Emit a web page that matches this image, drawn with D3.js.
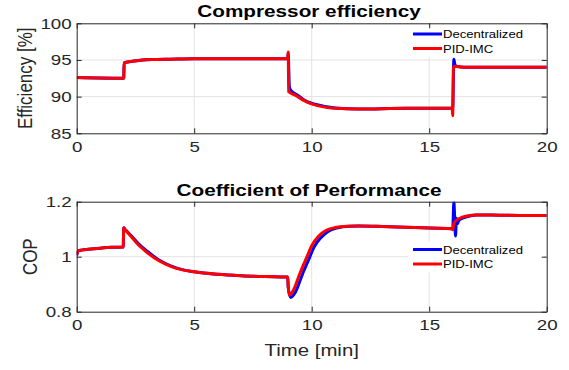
<!DOCTYPE html>
<html>
<head>
<meta charset="utf-8">
<script src="https://cdn.jsdelivr.net/npm/d3@7"></script>
<style>
  body { margin: 0; background: #fff; }
  text { font-family: "Liberation Sans", Arial, Helvetica, sans-serif; fill: #262626; }
</style>
</head>
<body>
<div id="chart"></div>
<script>
// donnees
var xTicks = [0, 5, 10, 15, 20];
var effTicks = [85, 90, 95, 100];
var copTicks = [0.8, 1, 1.2];
var seriesNames = ['Decentralized', 'PID-IMC'];

// rendement compresseur, Decentralized
var tEffDec = [0,1.98,2.0,2.02,2.3,2.7,3.2,4,5,6,7,8,8.98,9.0,9.05,9.1,9.4,9.7,10,10.5,11,12,13,14,15,15.98,16.0,16.05,16.1,16.2,16.5,17,18,19,20];
var effDec = [92.6,92.5,92.5,94.6,94.8,94.95,95.05,95.1,95.15,95.15,95.15,95.15,95.15,95.9,91.3,90.9,90.2,89.5,89.1,88.7,88.45,88.3,88.35,88.4,88.4,88.4,88.4,95.1,94.3,94.1,94.0,94.0,94.0,94.0,94.0];
// rendement compresseur, PID-IMC
var tEffPid = [0,1.98,2.0,2.02,2.3,2.7,3.2,4,5,6,7,8,8.98,9.0,9.02,9.05,9.3,9.6,10,10.5,11,12,13,14,15,15.98,16.0,16.03,16.06,16.2,16.5,17,18,19,20];
var effPid = [92.6,92.5,92.5,94.6,94.8,94.95,95.05,95.1,95.15,95.15,95.15,95.15,95.15,96.1,90.7,90.6,90.2,89.6,89.0,88.6,88.4,88.3,88.35,88.4,88.4,88.4,87.4,94.0,94.1,94.1,94.0,94.0,94.0,94.0,94.0];

// COP, Decentralized
var tCopDec = [0,0.05,0.2,0.5,1,1.5,1.98,2.0,2.05,2.3,2.6,3,3.5,4,4.5,5,6,7,8,8.98,9.0,9.1,9.3,9.6,9.9,10.1,10.4,10.7,11.1,11.6,12,13,14,15,15.98,16.0,16.05,16.08,16.12,16.16,16.2,16.25,16.3,16.6,17,18,19,20];
var copDec = [1.005,1.02,1.024,1.027,1.031,1.034,1.035,1.105,1.1,1.078,1.05,1.02,0.988,0.967,0.953,0.945,0.936,0.931,0.928,0.926,0.89,0.852,0.87,0.935,0.995,1.035,1.07,1.092,1.105,1.111,1.112,1.110,1.107,1.104,1.102,1.1,1.2,1.15,1.075,1.14,1.12,1.13,1.135,1.145,1.152,1.151,1.15,1.15];
// COP, PID-IMC
var tCopPid = [0,0.05,0.2,0.5,1,1.5,1.98,2.0,2.05,2.3,2.6,3,3.5,4,4.5,5,6,7,8,8.98,9.0,9.05,9.2,9.5,9.8,10,10.3,10.6,11,11.5,12,13,14,15,15.98,16.0,16.05,16.1,16.3,16.6,17,18,19,20];
var copPid = [1.005,1.02,1.024,1.027,1.031,1.034,1.035,1.105,1.1,1.075,1.045,1.015,0.985,0.965,0.952,0.945,0.936,0.931,0.928,0.926,0.89,0.86,0.875,0.94,1.0,1.04,1.075,1.095,1.106,1.111,1.112,1.110,1.107,1.104,1.102,1.098,1.12,1.128,1.14,1.148,1.152,1.151,1.15,1.15];

var W = 569, H = 370;
var colors = ['#0000ff', '#ff0000'];
var axisColor = '#262626';

var svg = d3.select('#chart').append('svg')
  .attr('width', W)
  .attr('height', H);

var x = d3.scaleLinear().domain([0, 20]).range([76.7, 546.7]);

function zip(t, v) { return t.map(function (d, i) { return [d, v[i]]; }); }

// texte etire horizontalement comme sur la figure
function stretched(sel, px, py, sx, extra) {
  return sel.attr('x', 0).attr('y', 0)
    .attr('transform', 'translate(' + px + ',' + py + ') scale(' + sx + ',1)' + (extra || ''));
}

function panel(cfg) {
  var y = d3.scaleLinear().domain(cfg.domain).range([cfg.bottom, cfg.top]);
  var g = svg.append('g');

  // grille
  g.selectAll('.gx').data(xTicks.slice(1, -1)).join('line')
    .attr('x1', d => x(d)).attr('x2', d => x(d))
    .attr('y1', cfg.top).attr('y2', cfg.bottom)
    .style('stroke', '#e3e3e3').style('stroke-width', 1);
  g.selectAll('.gy').data(cfg.ticks.slice(1, -1)).join('line')
    .attr('x1', x(0)).attr('x2', x(20))
    .attr('y1', d => y(d)).attr('y2', d => y(d))
    .style('stroke', '#e3e3e3').style('stroke-width', 1);

  // courbes
  svg.append('clipPath').attr('id', 'clip' + cfg.id)
    .append('rect').attr('x', x(0)).attr('y', cfg.top)
    .attr('width', x(20) - x(0)).attr('height', cfg.bottom - cfg.top);
  var line = d3.line().x(d => x(d[0])).y(d => y(d[1])).curve(d3.curveMonotoneX);
  g.append('g').attr('clip-path', 'url(#clip' + cfg.id + ')')
    .selectAll('path').data(cfg.series).join('path')
    .attr('d', d => line(d))
    .style('fill', 'none')
    .style('stroke', (d, i) => colors[i])
    .style('stroke-width', 3)
    .style('stroke-linejoin', 'round');

  // legende
  var lg = g.append('g');
  lg.append('rect').attr('x', 408).attr('y', cfg.legendY - 8)
    .attr('width', 136).attr('height', 31).style('fill', '#fff');
  seriesNames.forEach(function (name, i) {
    var ly = cfg.legendY + i * 14.5;
    lg.append('line').attr('x1', 413).attr('x2', 442).attr('y1', ly).attr('y2', ly)
      .style('stroke', colors[i]).style('stroke-width', 3);
    stretched(lg.append('text'), 443, ly + 4, 1.19)
      .style('font-size', '11px').style('fill', '#000').text(name);
  });

  // axes
  var ax = g.append('g').attr('transform', 'translate(0,' + cfg.bottom + ')')
    .call(d3.axisBottom(x).tickValues(xTicks).tickSizeInner(-5).tickSizeOuter(0).tickPadding(8));
  ax.selectAll('text').attr('transform', 'scale(1.25,1)');
  g.append('g').attr('transform', 'translate(0,' + cfg.top + ')')
    .call(d3.axisTop(x).tickValues(xTicks).tickSizeInner(-5).tickSizeOuter(0).tickFormat(''));
  var ay = g.append('g').attr('transform', 'translate(' + x(0) + ',0)')
    .call(d3.axisLeft(y).tickValues(cfg.ticks).tickSizeInner(-5).tickSizeOuter(0)
      .tickPadding(4).tickFormat(d3.format('~g')));
  ay.selectAll('text').attr('transform', 'scale(1.25,1)');
  g.append('g').attr('transform', 'translate(' + x(20) + ',0)')
    .call(d3.axisRight(y).tickValues(cfg.ticks).tickSizeInner(-5).tickSizeOuter(0).tickFormat(''));
  g.selectAll('.domain, .tick line').style('stroke', axisColor);
  g.selectAll('.tick text').style('font-size', '15px').style('font-family', '"Liberation Sans", Arial, sans-serif')
    .style('fill', axisColor);

  // titre et etiquette
  stretched(g.append('text'), 309, cfg.top - 6, 1.22)
    .attr('text-anchor', 'middle').style('font-size', '17px').style('font-weight', 'bold')
    .style('fill', '#000').text(cfg.title);
  stretched(g.append('text'), cfg.labelX, (cfg.top + cfg.bottom) / 2, 1.15, ' rotate(-90)')
    .attr('text-anchor', 'middle').style('font-size', '17px').text(cfg.ylabel);
}

panel({
  id: 1, top: 23.3, bottom: 133.3, domain: [85, 100], ticks: effTicks,
  series: [zip(tEffDec, effDec), zip(tEffPid, effPid)],
  title: 'Compressor efficiency', ylabel: 'Efficiency [%]', labelX: 32, legendY: 34
});
panel({
  id: 2, top: 201.7, bottom: 311.7, domain: [0.8, 1.2], ticks: copTicks,
  series: [zip(tCopDec, copDec), zip(tCopPid, copPid)],
  title: 'Coefficient of Performance', ylabel: 'COP', labelX: 37, legendY: 249.5
});

stretched(svg.append('text'), 311.7, 356, 1.2)
  .attr('text-anchor', 'middle').style('font-size', '17px').text('Time [min]');
</script>
</body>
</html>
